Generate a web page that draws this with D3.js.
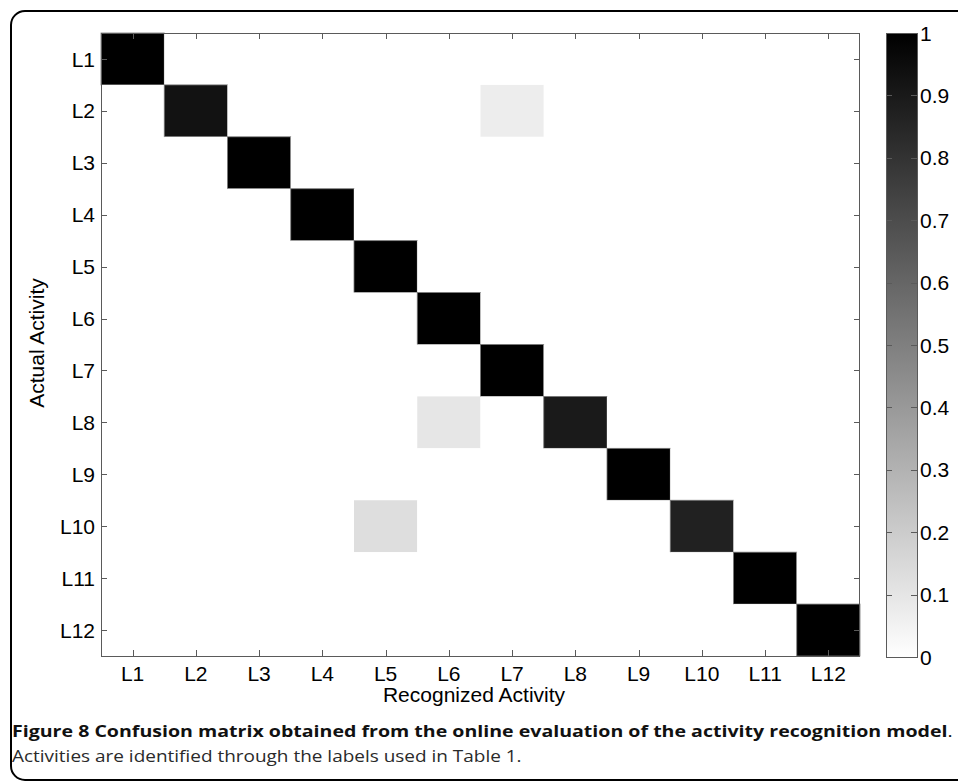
<!DOCTYPE html>
<html>
<head>
<meta charset="utf-8">
<script src="https://cdn.jsdelivr.net/npm/d3@7"></script>
<style>
  html, body { margin: 0; padding: 0; background: #fff; }
  svg { display: block; }
</style>
</head>
<body>
<div id="chart"></div>
<script>
// ── Data ─────────────────────────────────────────
const labels = ["L1", "L2", "L3", "L4", "L5", "L6", "L7", "L8", "L9", "L10", "L11", "L12"];
// rows = actual activity, columns = recognized activity
const matrix = [
  [1, 0, 0, 0, 0, 0, 0, 0, 0, 0, 0, 0],
  [0, 0.93, 0, 0, 0, 0, 0.07, 0, 0, 0, 0, 0],
  [0, 0, 1, 0, 0, 0, 0, 0, 0, 0, 0, 0],
  [0, 0, 0, 1, 0, 0, 0, 0, 0, 0, 0, 0],
  [0, 0, 0, 0, 1, 0, 0, 0, 0, 0, 0, 0],
  [0, 0, 0, 0, 0, 1, 0, 0, 0, 0, 0, 0],
  [0, 0, 0, 0, 0, 0, 1, 0, 0, 0, 0, 0],
  [0, 0, 0, 0, 0, 0.1, 0, 0.9, 0, 0, 0, 0],
  [0, 0, 0, 0, 0, 0, 0, 0, 1, 0, 0, 0],
  [0, 0, 0, 0, 0.13, 0, 0, 0, 0, 0.87, 0, 0],
  [0, 0, 0, 0, 0, 0, 0, 0, 0, 0, 1, 0],
  [0, 0, 0, 0, 0, 0, 0, 0, 0, 0, 0, 1]
];
const colorbarTicks = [0, 0.1, 0.2, 0.3, 0.4, 0.5, 0.6, 0.7, 0.8, 0.9, 1];
const xTitle = "Recognized Activity";
const yTitle = "Actual Activity";
const captionBold = "Figure 8 Confusion matrix obtained from the online evaluation of the activity recognition model";
const captionRest = "Activities are identified through the labels used in Table 1.";

// ── Layout ───────────────────────────────────────
const W = 958, H = 781;
const plot = { left: 101, top: 33, right: 860, bottom: 656 };
const cbar = { left: 886, right: 917 };
const axisColor = "#5a5a5a";
const tickLen = 6;
const font = "'Liberation Sans', Arial, Helvetica, sans-serif";
const fs = 21;

const svg = d3.select("#chart").append("svg")
  .attr("width", W).attr("height", H);

// rounded figure frame
svg.append("rect")
  .attr("x", 11).attr("y", 11)
  .attr("width", 980).attr("height", 769)
  .attr("rx", 14).attr("ry", 14)
  .attr("fill", "none")
  .attr("stroke", "#000")
  .attr("stroke-width", 2);

// ── Scales ───────────────────────────────────────
const x = d3.scaleBand().domain(labels).range([plot.left, plot.right]).padding(0);
const y = d3.scaleBand().domain(labels).range([plot.top, plot.bottom]).padding(0);
const gray = d3.scaleLinear().domain([0, 1]).range(["#ffffff", "#000000"]);
const cy = d3.scaleLinear().domain([0, 1]).range([plot.bottom + 1, plot.top]);

// ── Cells ────────────────────────────────────────
const cells = [];
matrix.forEach((row, i) => row.forEach((v, j) => cells.push({ r: labels[i], c: labels[j], v })));

svg.append("g").selectAll("rect")
  .data(cells)
  .join("rect")
  .attr("x", d => x(d.c))
  .attr("y", d => y(d.r))
  .attr("width", x.bandwidth())
  .attr("height", y.bandwidth())
  .attr("fill", d => gray(d.v))
  .attr("stroke", d => d.v > 0.5 ? "#777" : "none")
  .attr("stroke-width", 0.8);

// ── Axes box + inward ticks ──────────────────────
const box = svg.append("g").attr("fill", "none").attr("stroke", axisColor).attr("stroke-width", 1);
box.append("rect")
  .attr("x", plot.left + 0.5).attr("y", plot.top + 0.5)
  .attr("width", plot.right - plot.left - 1).attr("height", plot.bottom - plot.top);

labels.forEach(l => {
  const cx = Math.round(x(l) + x.bandwidth() / 2) + 0.5;
  const cyy = Math.round(y(l) + y.bandwidth() / 2) + 0.5;
  box.append("line").attr("x1", cx).attr("x2", cx).attr("y1", plot.bottom).attr("y2", plot.bottom - tickLen);
  box.append("line").attr("x1", cx).attr("x2", cx).attr("y1", plot.top).attr("y2", plot.top + tickLen);
  box.append("line").attr("y1", cyy).attr("y2", cyy).attr("x1", plot.left).attr("x2", plot.left + tickLen);
  box.append("line").attr("y1", cyy).attr("y2", cyy).attr("x1", plot.right).attr("x2", plot.right - tickLen);
});

// tick labels
svg.append("g").selectAll("text")
  .data(labels)
  .join("text")
  .attr("x", d => x(d) + x.bandwidth() / 2)
  .attr("y", 681)
  .attr("text-anchor", "middle")
  .attr("font-family", font).attr("font-size", fs).attr("fill", "#000")
  .text(d => d);

svg.append("g").selectAll("text")
  .data(labels)
  .join("text")
  .attr("x", 95)
  .attr("y", d => y(d) + y.bandwidth() / 2)
  .attr("dy", "0.36em")
  .attr("text-anchor", "end")
  .attr("font-family", font).attr("font-size", fs).attr("fill", "#000")
  .text(d => d);

// axis titles
svg.append("text")
  .attr("x", 474).attr("y", 702)
  .attr("text-anchor", "middle")
  .attr("font-family", font).attr("font-size", fs)
  .text(xTitle);

svg.append("text")
  .attr("transform", `translate(44, 343) rotate(-90)`)
  .attr("text-anchor", "middle")
  .attr("font-family", font).attr("font-size", fs)
  .text(yTitle);

// ── Colorbar ─────────────────────────────────────
const grad = svg.append("defs").append("linearGradient")
  .attr("id", "cbgrad").attr("x1", 0).attr("x2", 0).attr("y1", 1).attr("y2", 0);
grad.append("stop").attr("offset", "0%").attr("stop-color", gray(0));
grad.append("stop").attr("offset", "100%").attr("stop-color", gray(1));

svg.append("rect")
  .attr("x", cbar.left + 0.5).attr("y", cy(1) + 0.5)
  .attr("width", cbar.right - cbar.left).attr("height", cy(0) - cy(1))
  .attr("fill", "url(#cbgrad)")
  .attr("stroke", axisColor);

const cbTicks = svg.append("g").attr("stroke", axisColor);
colorbarTicks.forEach(t => {
  const ty = Math.round(cy(t)) + 0.5;
  cbTicks.append("line").attr("x1", cbar.left).attr("x2", cbar.left + tickLen).attr("y1", ty).attr("y2", ty);
  cbTicks.append("line").attr("x1", cbar.right).attr("x2", cbar.right - tickLen).attr("y1", ty).attr("y2", ty);
});

svg.append("g").selectAll("text")
  .data(colorbarTicks)
  .join("text")
  .attr("x", cbar.right + 3)
  .attr("y", d => cy(d))
  .attr("dy", "0.36em")
  .attr("font-family", font).attr("font-size", fs)
  .text(d => d3.format("~g")(d));

// ── Caption ──────────────────────────────────────
// the caption face is wider than Open Sans, so stretch each line to its width
const capFont = "'Open Sans', 'Noto Sans', sans-serif";
function fitLine(sel, target) {
  const w = sel.node().getComputedTextLength();
  sel.attr("transform", `translate(12, ${sel.attr("data-y")}) scale(${target / w}, 1)`);
}

const cap = svg.append("text")
  .attr("data-y", 737)
  .attr("font-family", capFont)
  .attr("font-size", 16.5)
  .attr("fill", "#111");
cap.append("tspan").attr("font-weight", "bold").text(captionBold);
cap.append("tspan").text(".");
fitLine(cap, 941);

const cap2 = svg.append("text")
  .attr("data-y", 762)
  .attr("font-family", capFont)
  .attr("font-size", 16.5)
  .attr("fill", "#2a2a2a")
  .text(captionRest);
fitLine(cap2, 510);
</script>
</body>
</html>
